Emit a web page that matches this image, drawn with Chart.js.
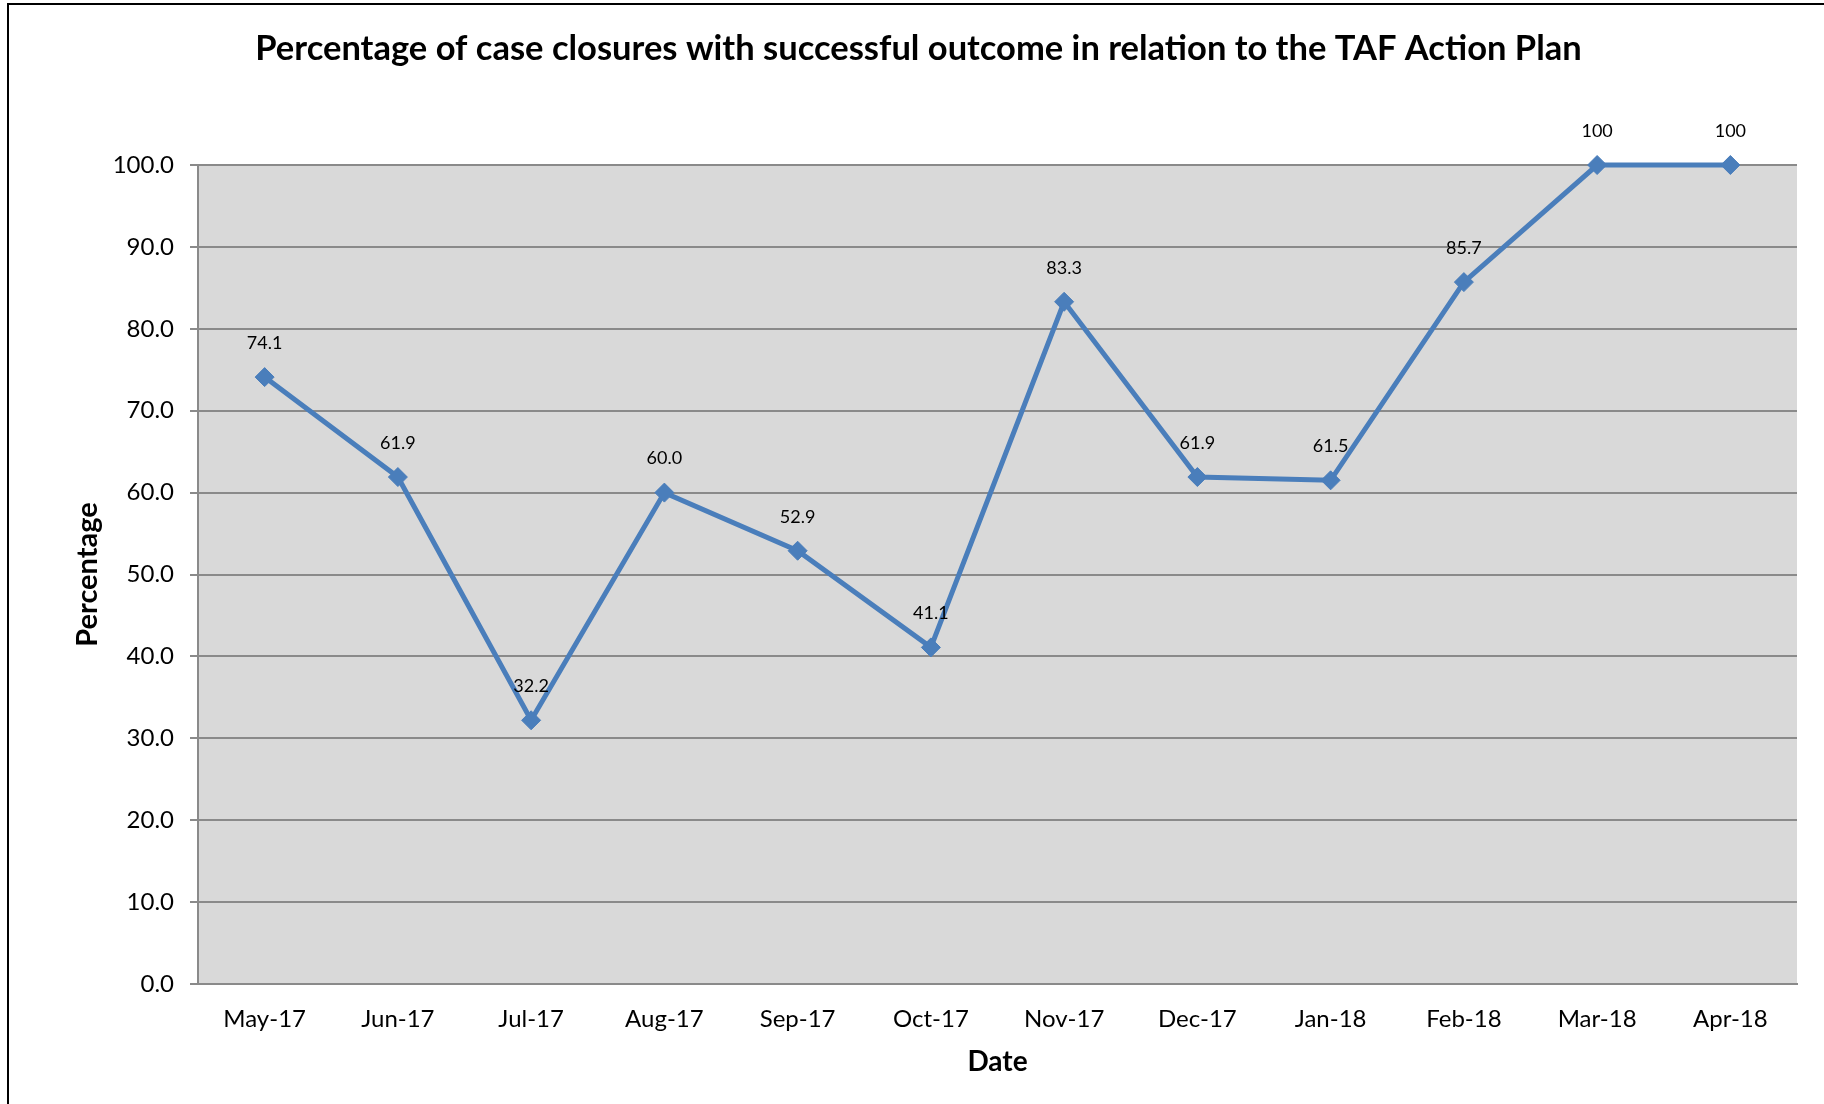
<!DOCTYPE html>
<html>
<head>
<meta charset="utf-8">
<style>
  html, body { margin: 0; padding: 0; background: #ffffff; }
  #wrap { width: 1824px; height: 1104px; position: relative; }
</style>
<script src="https://cdn.jsdelivr.net/npm/chart.js@4/dist/chart.umd.min.js"></script>
</head>
<body>
<div id="wrap"><canvas id="chart" width="1824" height="1104"></canvas></div>
<script>
// Monthly share of case closures with a successful outcome (%)
const months = ['May-17', 'Jun-17', 'Jul-17', 'Aug-17', 'Sep-17', 'Oct-17',
                'Nov-17', 'Dec-17', 'Jan-18', 'Feb-18', 'Mar-18', 'Apr-18'];
const successRate = [74.1, 61.9, 32.2, 60.0, 52.9, 41.1, 83.3, 61.9, 61.5, 85.7, 100, 100];
const valueLabels = ['74.1', '61.9', '32.2', '60.0', '52.9', '41.1', '83.3', '61.9', '61.5', '85.7', '100', '100'];
const yTicks = [0, 10, 20, 30, 40, 50, 60, 70, 80, 90, 100];

const FONT = "Lato, 'Open Sans', 'DejaVu Sans', sans-serif";
const LINE_BLUE = '#4A7EBB';
const GRID_GREY = '#8A8A8A';

// White page, outer frame and grey plot background
const backdrop = {
  id: 'backdrop',
  beforeDraw(chart) {
    const { ctx, chartArea: a } = chart;
    ctx.save();
    ctx.fillStyle = '#ffffff';
    ctx.fillRect(0, 0, chart.width, chart.height);
    ctx.strokeStyle = '#000000';
    ctx.lineWidth = 2;
    ctx.beginPath();
    ctx.moveTo(8, chart.height);
    ctx.lineTo(8, 4);
    ctx.lineTo(chart.width, 4);
    ctx.stroke();
    ctx.fillStyle = '#D9D9D9';
    ctx.fillRect(a.left, a.top, a.right - a.left, a.bottom - a.top);
    ctx.restore();
  }
};

// Value labels above each point
const valueTags = {
  id: 'valueTags',
  afterDatasetsDraw(chart) {
    const { ctx } = chart;
    const meta = chart.getDatasetMeta(0);
    ctx.save();
    ctx.fillStyle = '#000000';
    ctx.font = '18px ' + FONT;
    ctx.textAlign = 'center';
    ctx.textBaseline = 'middle';
    meta.data.forEach((pt, i) => {
      ctx.fillText(valueLabels[i], pt.x, pt.y - 34);
    });
    ctx.restore();
  }
};

new Chart(document.getElementById('chart'), {
  type: 'line',
  data: {
    labels: months,
    datasets: [{
      data: successRate,
      borderColor: LINE_BLUE,
      backgroundColor: LINE_BLUE,
      borderWidth: 5,
      pointStyle: 'rectRot',
      pointRadius: 9.5,
      pointBorderWidth: 1,
      pointBackgroundColor: LINE_BLUE,
      pointBorderColor: LINE_BLUE,
      tension: 0,
      clip: false
    }]
  },
  options: {
    responsive: false,
    animation: false,
    layout: { padding: { left: 40, right: 27, top: 0, bottom: 0 } },
    plugins: {
      legend: { display: false },
      tooltip: { enabled: false },
      title: {
        display: true,
        text: 'Percentage of case closures with successful outcome in relation to the TAF Action Plan',
        color: '#000000',
        font: { family: FONT, size: 34.5, weight: 'bold', lineHeight: 1.2 },
        padding: { top: 28, bottom: 95.6 }
      }
    },
    scales: {
      x: {
        offset: true,
        grid: { display: false, drawTicks: false },
        border: { display: true, color: GRID_GREY, width: 2 },
        ticks: {
          color: '#000000',
          font: { family: FONT, size: 24 },
          padding: 21,
          maxRotation: 0,
          autoSkip: false
        },
        title: {
          display: true,
          text: 'Date',
          color: '#000000',
          font: { family: FONT, size: 28, weight: 'bold', lineHeight: 1.2 },
          padding: { top: 0, bottom: 25 }
        },
        afterFit(scale) { scale.height = 120; }
      },
      y: {
        min: 0,
        max: 100,
        afterBuildTicks(scale) { scale.ticks = yTicks.map(v => ({ value: v })); },
        grid: { color: GRID_GREY, lineWidth: 2, drawTicks: true, tickLength: 8, tickColor: GRID_GREY },
        border: { display: true, color: GRID_GREY, width: 2 },
        ticks: {
          color: '#000000',
          font: { family: FONT, size: 24 },
          padding: 16,
          callback: v => Number(v).toFixed(1)
        },
        title: {
          display: true,
          text: 'Percentage',
          color: '#000000',
          font: { family: FONT, size: 29, weight: 'bold', lineHeight: 1.2 },
          padding: { top: 30, bottom: 0 }
        },
        afterFit(scale) { scale.width = 158; }
      }
    }
  },
  plugins: [backdrop, valueTags]
});
</script>
</body>
</html>
